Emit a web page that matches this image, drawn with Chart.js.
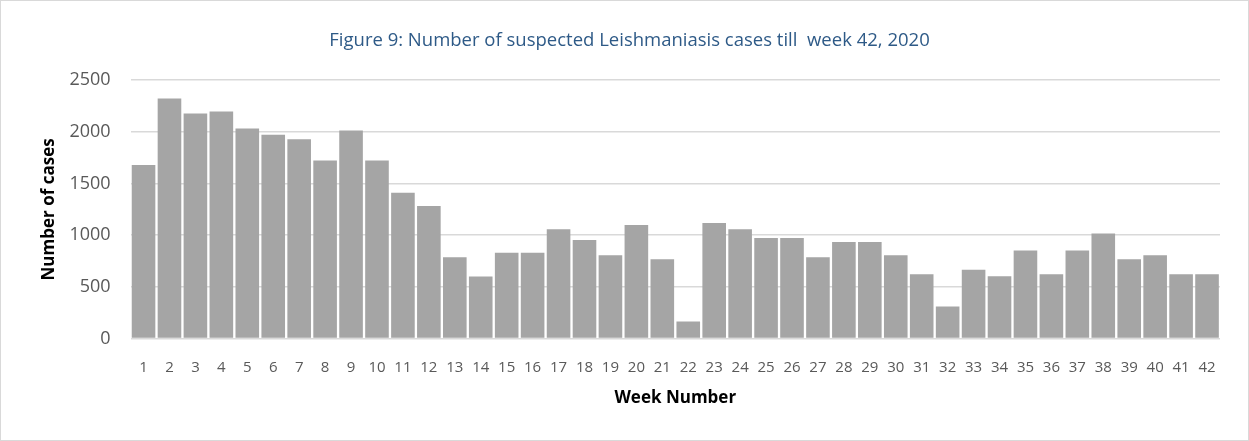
<!DOCTYPE html>
<html>
<head>
<meta charset="utf-8">
<script src="https://cdn.jsdelivr.net/npm/chart.js@4/dist/chart.umd.min.js"></script>
<style>
  html, body { margin: 0; padding: 0; background: #ffffff; }
  #wrap { position: relative; width: 1249px; height: 441px; box-sizing: border-box; border: 1px solid #d9d9d9; background: #fff; }
  canvas { display: block; }
</style>
</head>
<body>
<div id="wrap"><canvas id="c" width="1247" height="439"></canvas></div>
<script>
const weeks = ["1","2","3","4","5","6","7","8","9","10","11","12","13","14","15","16","17","18","19","20","21","22","23","24","25","26","27","28","29","30","31","32","33","34","35","36","37","38","39","40","41","42"];
const cases = [1680, 2322, 2179, 2198, 2033, 1972, 1929, 1722, 2014, 1722, 1410, 1284, 788, 600, 830, 830, 1057, 953, 807, 1099, 768, 165, 1119, 1057, 973, 973, 788, 934, 934, 807, 623, 311, 665, 603, 853, 623, 853, 1018, 768, 807, 623, 623];
const yTicks = [0, 500, 1000, 1500, 2000, 2500];
const chartTitle = "Figure 9: Number of suspected Leishmaniasis cases till  week 42, 2020";
const xTitle = "Week Number";
const yTitle = "Number of cases";

new Chart(document.getElementById('c'), {
  type: 'bar',
  data: {
    labels: weeks,
    datasets: [{
      label: 'Cases',
      data: cases,
      backgroundColor: '#a5a5a5',
      borderWidth: 0,
      barPercentage: 0.91,
      categoryPercentage: 1.0
    }]
  },
  options: {
    responsive: false,
    animation: false,
    devicePixelRatio: 1,
    layout: { padding: { left: 38, right: 28, top: 0, bottom: 32 } },
    plugins: {
      legend: { display: false },
      tooltip: { enabled: false },
      title: {
        display: true,
        text: chartTitle,
        color: '#2e5a87',
        font: { family: 'Open Sans', size: 18.5, weight: 'normal' },
        padding: { top: 29, bottom: 28 }
      }
    },
    scales: {
      x: {
        grid: { display: false },
        border: { display: false },
        ticks: {
          color: '#595959',
          font: { family: 'Open Sans', size: 15 },
          padding: 12,
          maxRotation: 0,
          autoSkip: false
        },
        title: {
          display: true,
          text: xTitle,
          color: '#000000',
          font: { family: 'Open Sans', size: 17, weight: 'bold' },
          padding: { top: -1, bottom: 0 }
        }
      },
      y: {
        min: 0,
        max: 2500,
        afterBuildTicks: (axis) => { axis.ticks = yTicks.map(v => ({ value: v })); },
        grid: { color: '#d9d9d9', lineWidth: 1.5, drawTicks: false },
        border: { display: false },
        ticks: {
          color: '#595959',
          font: { family: 'Open Sans', size: 18 },
          padding: 20,
          callback: (v) => String(v)
        },
        title: {
          display: true,
          text: yTitle,
          color: '#000000',
          font: { family: 'Open Sans', size: 17, weight: 'bold' },
          padding: { top: 0, bottom: -10 }
        }
      }
    }
  }
});
</script>
</body>
</html>
